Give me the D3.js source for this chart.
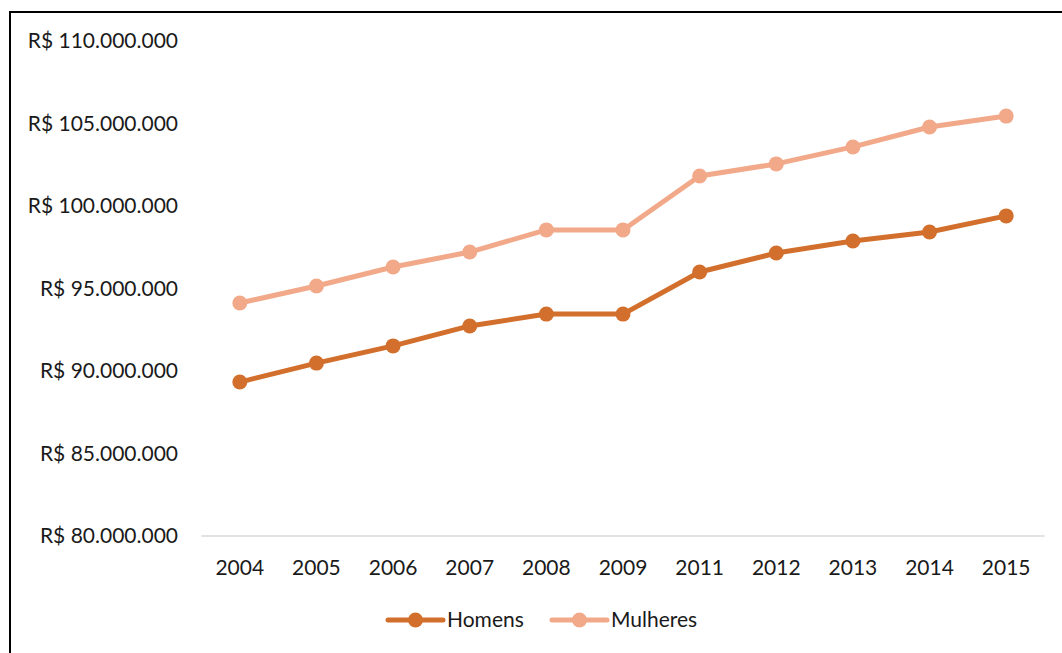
<!DOCTYPE html>
<html>
<head>
<meta charset="utf-8">
<script src="https://cdn.jsdelivr.net/npm/d3@7"></script>
<style>
  body { margin: 0; background: #fff; }
  text { font-family: Lato, "Open Sans", sans-serif; fill: #1a1a1a; }
</style>
</head>
<body>
<div id="chart"></div>
<script>
const years = ["2004","2005","2006","2007","2008","2009","2011","2012","2013","2014","2015"]
const homens = [89330000, 90480000, 91520000, 92730000, 93450000, 93450000, 96000000, 97150000, 97880000, 98420000, 99400000]
const mulheres = [94120000, 95150000, 96300000, 97210000, 98550000, 98550000, 101820000, 102550000, 103580000, 104790000, 105450000]
const yTicks = [80000000, 85000000, 90000000, 95000000, 100000000, 105000000, 110000000]

const W = 1062, H = 653

let svg = d3.select("#chart").append("svg")
  .attr("width", W)
  .attr("height", H)

// chart frame (runs off the right and bottom edge)
svg.append("rect")
  .attr("x", 10).attr("y", 12)
  .attr("width", 1200).attr("height", 800)
  .attr("fill", "none")
  .attr("stroke", "#000")
  .attr("stroke-width", 2)

let x = d3.scaleBand().domain(years).range([201.5, 1044.5])
let y = d3.scaleLinear().domain([80000000, 110000000]).range([536, 41])

const fmt = v => "R$ " + d3.format(",")(v).replace(/,/g, ".")

// y labels
svg.append("g").selectAll("text")
  .data(yTicks).enter().append("text")
  .attr("x", 178)
  .attr("y", d => y(d))
  .attr("dy", "0.35em")
  .attr("text-anchor", "end")
  .attr("font-size", 21)
  .text(fmt)

// bottom axis line
svg.append("line")
  .attr("x1", x.range()[0]).attr("x2", x.range()[1])
  .attr("y1", y(80000000)).attr("y2", y(80000000))
  .attr("stroke", "#d9d9d9").attr("stroke-width", 1.5)

// x labels
svg.append("g").selectAll("text")
  .data(years).enter().append("text")
  .attr("x", d => x(d) + x.bandwidth() / 2)
  .attr("y", 568)
  .attr("dy", "0.35em")
  .attr("text-anchor", "middle")
  .attr("font-size", 21)
  .text(d => d)

let series = [
  { name: "Homens", values: homens, color: "#d36f2c" },
  { name: "Mulheres", values: mulheres, color: "#f1a98a" }
]

let line = d3.line()
  .x((d, i) => x(years[i]) + x.bandwidth() / 2)
  .y(d => y(d))

series.forEach(s => {
  svg.append("path")
    .attr("d", line(s.values))
    .attr("fill", "none")
    .attr("stroke", s.color)
    .attr("stroke-width", 5)
    .attr("stroke-linejoin", "round")
  svg.append("g").selectAll("circle")
    .data(s.values).enter().append("circle")
    .attr("cx", (d, i) => x(years[i]) + x.bandwidth() / 2)
    .attr("cy", d => y(d))
    .attr("r", 7.5)
    .attr("fill", s.color)
})

// legend
let legendX = [388, 552]
series.forEach((s, i) => {
  let g = svg.append("g").attr("transform", "translate(" + legendX[i] + ",620)")
  g.append("line")
    .attr("x1", 0).attr("x2", 55)
    .attr("stroke", s.color).attr("stroke-width", 5)
    .attr("stroke-linecap", "round")
  g.append("circle").attr("cx", 27.5).attr("r", 7.5).attr("fill", s.color)
  g.append("text")
    .attr("x", 59).attr("dy", "0.35em")
    .attr("font-size", 21)
    .text(s.name)
})
</script>
</body>
</html>
